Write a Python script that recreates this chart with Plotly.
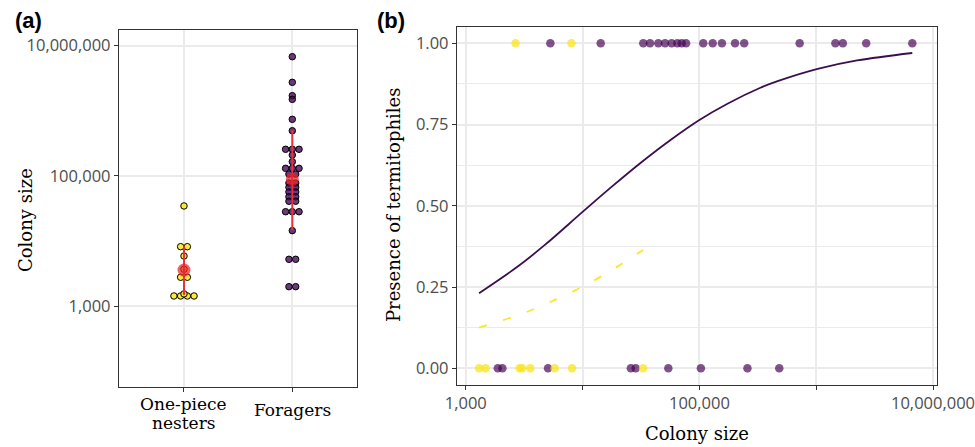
import plotly.graph_objects as go

# ---------------- data ----------------
# Panel (a): colony sizes shown as dot stacks (value, number of dots in the stack)
nester_values = [34700, 8220, 5910, 3700, 2790, 1440, 1550]
nester_counts = [1, 2, 1, 1, 2, 4, 1]
forager_values = [6780000, 2740000, 1710000, 1500000, 741000, 495000, 257000, 210000,
                  166000, 131000, 107000, 78000, 67000, 57000, 48000, 41000, 28300,
                  14500, 5260, 2000]
forager_counts = [1, 1, 1, 1, 1, 1, 3, 1, 1, 3, 2, 2, 2, 2, 2, 2, 3, 1, 2, 2]
group_names = ["One-piece", "nesters", "Foragers"]
group_means = [3600, 89000]
group_lower = [1500, 14800]
group_upper = [8600, 508000]

# Panel (b): presence (1) / absence (0) of termitophiles vs colony size
forager_present = [5300, 14300, 33100, 37800, 44500, 50800, 57900, 64800, 70600, 76900,
                   108000, 130000, 156000, 202000, 242000, 722000, 1460000, 1690000,
                   2680000, 6650000]
forager_absent = [1880, 2060, 5060, 25900, 28500, 54200, 103000, 258000, 483000]
nester_present = [2670, 8030]
nester_absent = [1300, 1480, 2890, 3050, 3570, 5770, 8130, 33000]

# fitted curves
curve_forager_x = [1300, 2860, 4810, 10000, 17700, 31900, 57400, 100000, 174000,
                   333000, 474000, 1030000, 2240000, 6650000]
curve_forager_y = [0.231, 0.316, 0.381, 0.481, 0.558, 0.634, 0.704, 0.764, 0.814,
                   0.863, 0.884, 0.921, 0.947, 0.970]
curve_nester_x = [1300, 3160, 5850, 10000, 17800, 33000]
curve_nester_y = [0.125, 0.170, 0.211, 0.251, 0.302, 0.364]

YELLOW = "#FDE725"

fig = go.Figure()

# ---------------- panel (a) ----------------
spacing = 0.062


def stack(values, counts, cat):
    xs, ys = [], []
    for v, c in zip(values, counts):
        for i in range(c):
            xs.append(cat + (i - (c - 1) / 2) * spacing)
            ys.append(v)
    return xs, ys


for cat, vals, cnts, col in [(1, nester_values, nester_counts, "rgba(253,231,37,0.9)"),
                              (2, forager_values, forager_counts, "rgba(68,1,84,0.78)")]:
    xs, ys = stack(vals, cnts, cat)
    fig.add_trace(go.Scatter(x=xs, y=ys, mode="markers", xaxis="x", yaxis="y",
                             marker=dict(size=6.5, color=col,
                                         line=dict(color="black", width=1)),
                             showlegend=False, hoverinfo="skip"))

for i, cat in enumerate([1, 2]):
    fig.add_trace(go.Scatter(x=[cat, cat], y=[group_lower[i], group_upper[i]],
                             mode="lines", xaxis="x", yaxis="y",
                             line=dict(color="#E8313A", width=2),
                             showlegend=False, hoverinfo="skip"))
    fig.add_trace(go.Scatter(x=[cat], y=[group_means[i]], mode="markers",
                             xaxis="x", yaxis="y",
                             marker=dict(size=13, color="rgba(235,35,40,0.72)"),
                             showlegend=False, hoverinfo="skip"))

# ---------------- panel (b) ----------------
fig.add_trace(go.Scatter(x=curve_forager_x, y=curve_forager_y, mode="lines",
                         xaxis="x2", yaxis="y2",
                         line=dict(color="#3B0F4F", width=1.8, shape="spline", smoothing=1.0),
                         showlegend=False, hoverinfo="skip"))
fig.add_trace(go.Scatter(x=curve_nester_x, y=curve_nester_y, mode="lines",
                         xaxis="x2", yaxis="y2",
                         line=dict(color=YELLOW, width=1.8, dash="8px,17px",
                                   shape="spline", smoothing=1.0),
                         showlegend=False, hoverinfo="skip"))

pt_purple = "rgba(68,1,84,0.68)"
pt_yellow = "rgba(250,228,30,0.75)"
fig.add_trace(go.Scatter(x=forager_present + forager_absent,
                         y=[1] * len(forager_present) + [0] * len(forager_absent),
                         mode="markers", xaxis="x2", yaxis="y2",
                         marker=dict(size=8.5, color=pt_purple, line=dict(width=0)),
                         showlegend=False, hoverinfo="skip"))
fig.add_trace(go.Scatter(x=nester_present + nester_absent,
                         y=[1] * len(nester_present) + [0] * len(nester_absent),
                         mode="markers", xaxis="x2", yaxis="y2",
                         marker=dict(size=8.5, color=pt_yellow, line=dict(width=0)),
                         showlegend=False, hoverinfo="skip"))

W, H = 975, 447
tickfont = dict(family="Open Sans, Noto Sans, sans-serif", size=16.5, color="#4D4D4D")
serif_tick = dict(family="DejaVu Serif, serif", size=17, color="black")
serif = dict(family="DejaVu Serif, serif", size=18, color="black")
GRID = "#EBEBEB"
axis_common = dict(showline=True, linecolor="#333333", linewidth=1.3, mirror=True,
                   ticks="outside", ticklen=4, tickwidth=1.3, tickcolor="#333333",
                   gridcolor=GRID, gridwidth=2, zeroline=False, automargin=False,
                   ticklabeloverflow="allow")

fig.update_layout(
    width=W, height=H,
    margin=dict(l=0, r=0, t=0, b=0),
    paper_bgcolor="white", plot_bgcolor="white",
    xaxis=dict(domain=[119 / W, 357.3 / W], range=[0.4, 2.6], tickvals=[1, 2],
               ticktext=["", ""], anchor="y", **axis_common),
    yaxis=dict(domain=[1 - 387 / H, 1 - 30 / H], type="log", range=[1.761, 7.241],
               tickvals=[1000, 100000, 10000000],
               ticktext=["1,000", "100,000", "10,000,000"], tickfont=tickfont,
               anchor="x", **axis_common),
    xaxis2=dict(domain=[457 / W, 936.5 / W], type="log", range=[2.925, 7.03],
                tickvals=[1e3, 1e4, 1e5, 1e6, 1e7],
                ticktext=["1,000", "", "100,000", "", "10,000,000"], tickfont=tickfont,
                anchor="y2", **axis_common),
    yaxis2=dict(domain=[1 - 384.5 / H, 1 - 27 / H], range=[-0.05, 1.05],
                tickvals=[0, 0.25, 0.5, 0.75, 1.0],
                ticktext=["0.00", "0.25", "0.50", "0.75", "1.00"], tickfont=tickfont,
                minor=dict(tickvals=[0.125, 0.375, 0.625, 0.875], showgrid=True,
                           gridcolor=GRID, gridwidth=1.3, ticklen=0),
                anchor="x2", **axis_common),
)

# category labels under panel (a), placed on the category positions of the x axis
for txt, xc, yp in [(group_names[0], 1, 404), (group_names[1], 1, 423), (group_names[2], 2, 410)]:
    fig.add_annotation(xref="x", yref="paper", x=xc, y=1 - yp / H, text=txt,
                       showarrow=False, xanchor="center", yanchor="middle", font=serif_tick)

ann = [
    dict(text="<b>(a)</b>", x=28 / W, y=1 - 20 / H,
         font=dict(family="Liberation Sans, Arial", size=22, color="black")),
    dict(text="<b>(b)</b>", x=391 / W, y=1 - 20 / H,
         font=dict(family="Liberation Sans, Arial", size=22, color="black")),
    dict(text="Colony size", x=25 / W, y=1 - 220 / H, textangle=-90, font=serif),
    dict(text="Presence of termitophiles", x=393 / W, y=1 - 205 / H, textangle=-90, font=serif),
    dict(text="Colony size", x=697 / W, y=1 - 433 / H, font=serif),
]
for a in ann:
    fig.add_annotation(xref="paper", yref="paper", showarrow=False,
                       xanchor="center", yanchor="middle", **a)

fig.write_html("out.html", post_script="document.body.style.margin='0px';",
               config={"displayModeBar": False})
